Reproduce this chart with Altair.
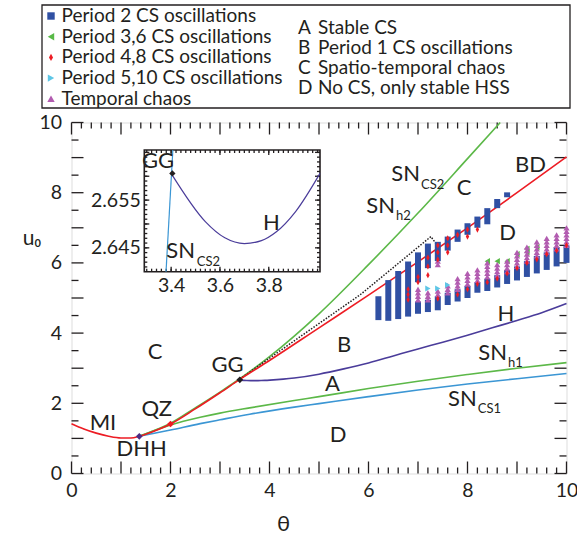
import altair as alt
import pandas as pd
import numpy as np

FONT = "Lato"
INK = "#231f20"
RED = "#ed1c24"
GREEN = "#5cb848"
LBLUE = "#3b96d4"
PURPLE = "#4a3c9a"
MBLUE = "#3050a3"
MGREEN = "#58b947"
MCYAN = "#5ec6e6"
MMAG = "#b25cb0"
W, H = 495, 351

# ---------------- curves (main plot) ----------------
mi_theta = [0, 0.25, 0.5, 0.75, 1.0, 1.2, 1.37, 1.6, 2.0, 2.5, 3.0, 3.4, 4.0, 5.0, 6.0, 7.0, 8.0, 9.0, 10.0]
mi_u = [1.42, 1.27, 1.15, 1.06, 1.01, 1.01, 1.06, 1.17, 1.41, 1.84, 2.30, 2.68, 3.22, 4.15, 5.08, 6.03, 7.00, 8.00, 9.02]
sncs2_theta = [1.37, 2.0, 2.5, 3.0, 3.4, 4.0, 5.0, 6.0, 7.0, 8.0, 8.66]
sncs2_u = [1.06, 1.43, 1.87, 2.32, 2.70, 3.33, 4.55, 5.95, 7.42, 8.97, 10.0]
snh1_theta = [1.37, 2.0, 2.6, 3.0, 3.6, 4.5, 5.0, 6.0, 7.0, 8.0, 9.0, 10.0]
snh1_u = [1.06, 1.38, 1.60, 1.72, 1.87, 2.08, 2.19, 2.42, 2.63, 2.82, 3.00, 3.16]
sncs1_theta = [1.37, 2.0, 2.6, 3.0, 3.6, 4.5, 5.0, 6.0, 7.0, 8.0, 9.0, 10.0]
sncs1_u = [1.06, 1.24, 1.42, 1.53, 1.69, 1.89, 1.99, 2.19, 2.38, 2.55, 2.70, 2.85]
h_theta = [3.4, 3.54, 3.62, 3.7, 3.77, 3.83, 3.91, 4.01, 4.5, 5.0, 5.5, 6.0, 6.5, 7.0, 7.5, 8.0, 8.5, 9.0, 9.5, 10.0]
h_u = [2.6606, 2.6505, 2.6471, 2.6459, 2.6465, 2.6483, 2.6526, 2.6606, 2.72, 2.83, 2.98, 3.15, 3.35,
       3.55, 3.74, 3.94, 4.15, 4.36, 4.58, 4.84]
snh2_theta = [3.4, 4.5, 5.83, 7.26, 7.38]
snh2_u = [2.69, 3.78, 5.09, 6.75, 6.52]

# special points
sp_name = ["DHH", "QZ", "GG"]
sp_theta = [1.37, 2.0, 3.4]
sp_u = [1.06, 1.41, 2.67]
sp_color = ["#4b2c83", RED, INK]

# ---------------- oscillation markers ----------------
# period 2: vertical ranges of stacked squares
p2_theta = [6.2, 6.4, 6.6, 6.8, 7.0, 7.0, 7.2, 7.2, 7.4, 7.4, 7.6, 7.6, 7.8, 7.8, 8.0, 8.0, 8.2, 8.2,
            8.4, 8.4, 8.6, 8.6, 8.8, 8.8, 9.0, 9.2, 9.4, 9.6, 9.8, 10.0]
p2_lo = [4.37, 4.35, 4.40, 4.47, 5.45, 4.55, 5.85, 4.60, 6.05, 4.65, 6.35, 4.80, 6.60, 4.90, 6.80, 5.00,
         7.00, 5.15, 7.10, 5.20, 7.56, 5.30, 7.87, 5.40, 5.50, 5.60, 5.70, 5.80, 5.90, 6.00]
p2_hi = [5.05, 5.51, 5.77, 6.04, 6.30, 4.90, 6.55, 4.95, 6.60, 5.05, 6.75, 5.15, 6.95, 5.25, 7.13, 5.35,
         7.32, 5.45, 7.56, 5.55, 7.82, 5.65, 8.01, 5.80, 5.90, 6.05, 6.20, 6.30, 6.45, 6.50]

p48_theta = [6.8, 6.8, 6.8, 7.0, 7.0, 7.2, 7.2, 7.2, 7.4, 7.4, 7.4, 7.4, 7.6, 7.6, 7.6, 7.8, 7.8,
             8.0, 8.0, 8.0, 8.2, 8.2, 8.4, 8.6, 8.8, 9.0, 9.2, 9.4, 9.6, 9.8, 10.0]
p48_u = [4.95, 5.10, 5.25, 5.45, 5.60, 5.65, 5.90, 6.15, 6.10, 6.30, 6.50, 4.98, 6.30, 6.50, 6.70, 6.80, 5.10,
         6.75, 6.95, 5.25, 6.95, 5.40, 5.45, 5.55, 5.70, 5.85, 6.00, 6.10, 6.25, 6.35, 6.50]

chaos_theta = [7.0, 7.0, 7.0, 7.0, 7.2, 7.2, 7.2, 7.4, 7.4, 7.4, 7.4, 7.6, 7.6, 7.6,
               7.8, 7.8, 7.8, 7.8, 8.0, 8.0, 8.0, 8.0, 8.2, 8.2, 8.2, 8.2,
               8.4, 8.4, 8.4, 8.4, 8.4, 8.6, 8.6, 8.6, 8.6, 8.8, 8.8, 8.8, 8.8,
               9.0, 9.0, 9.0, 9.0, 9.0, 9.2, 9.2, 9.2, 9.2, 9.2, 9.4, 9.4, 9.4, 9.4, 9.4,
               9.6, 9.6, 9.6, 9.6, 9.6, 9.8, 9.8, 9.8, 9.8, 9.8, 10.0, 10.0, 10.0, 10.0, 10.0, 10.0]
chaos_u = [4.95, 5.05, 5.15, 5.25, 4.95, 5.05, 5.15, 5.10, 5.20, 5.95, 6.05, 5.15, 5.25, 5.35,
           5.25, 5.35, 5.45, 5.55, 5.40, 5.50, 5.60, 5.70, 5.50, 5.60, 5.70, 5.80,
           5.60, 5.70, 5.80, 5.90, 6.00, 5.65, 5.75, 5.85, 5.95, 5.75, 5.85, 5.95, 6.05,
           5.90, 6.00, 6.10, 6.20, 6.30, 6.05, 6.15, 6.25, 6.35, 6.45, 6.20, 6.30, 6.40, 6.50, 6.60,
           6.30, 6.40, 6.50, 6.60, 6.70, 6.40, 6.50, 6.60, 6.70, 6.80, 6.50, 6.60, 6.70, 6.80, 6.90, 7.00]

p36_theta = [8.4, 8.6, 8.8, 9.0, 9.2, 9.2, 9.4]
p36_u = [6.05, 6.05, 6.05, 6.25, 6.30, 6.40, 6.45]

p510_theta = [7.2, 7.4, 7.6]
p510_u = [5.27, 5.27, 5.37]

series_names = ["Period 2 CS oscillations", "Period 3,6 CS oscillations", "Period 4,8 CS oscillations",
                "Period 5,10 CS oscillations", "Temporal chaos"]
series_colors = [MBLUE, MGREEN, RED, MCYAN, MMAG]
series_shapes = ["square", "triangle-left", "M0,-1L0.55,0L0,1L-0.55,0Z", "triangle-right", "triangle-up"]

region_letters = ["A", "B", "C", "D"]
region_texts = ["Stable CS", "Period 1 CS oscillations", "Spatio-temporal chaos", "No CS, only stable HSS"]

# ---------------- inset ----------------
INSET_X = [3.29, 4.01]
INSET_Y = [2.640, 2.6655]
inset_cs2_theta = [3.379, 3.407]
inset_cs2_u = [2.640, 2.6655]
inset_gg = (3.405, 2.6606)

# ---------------- tick values ----------------
x_major = list(range(0, 11))
x_minor = [round(v, 1) for v in np.arange(0, 10.01, 0.2) if abs(v - round(v)) > 1e-6]
y_major = list(range(0, 11))
y_minor = [v + 0.5 for v in range(0, 10)]
ix_major = [3.4, 3.6, 3.8]
ix_minor = [round(v, 2) for v in np.arange(3.30, 4.005, 0.02)]
iy_major = [2.645, 2.65, 2.655, 2.66, 2.665]
iy_minor = [round(v, 3) for v in np.arange(2.641, 2.6655, 0.001)]

# ---------------- scales / axes ----------------
TICKFS = 19.5
LEGFS = 19
SX = alt.Scale(domain=[0, 10], nice=False, zero=False)
SY = alt.Scale(domain=[0, 10], nice=False, zero=False)
AX = alt.Axis(values=[0, 2, 4, 6, 8, 10], ticks=False, domain=False, grid=False, title="θ",
              labelFontSize=TICKFS, labelPadding=8, labelColor=INK, labelFont=FONT,
              titleFontSize=22, titleFontWeight="normal", titleColor=INK, titleFont=FONT,
              titleX=211.5, titleY=50, titleAnchor="middle", titleBaseline="middle", labelFlush=False)
AY = alt.Axis(values=[0, 2, 4, 6, 8, 10], ticks=False, domain=False, grid=False, title="u₀",
              labelFontSize=TICKFS, labelPadding=10, labelColor=INK, labelFont=FONT,
              titleFontSize=21, titleFontWeight="normal", titleColor=INK, titleFont=FONT,
              titleAngle=0, titleX=-40, titleY=116, titleAlign="center", titleBaseline="middle",
              labelFlush=False)

IL, IR, IT, IB = 72.8, 248.5, 27.5, 149.2
SXI = alt.Scale(domain=INSET_X, range=[IL, IR], nice=False, zero=False)
SYI = alt.Scale(domain=INSET_Y, range=[IB, IT], nice=False, zero=False)
AXI = alt.Axis(orient="bottom", offset=IB - H, values=ix_major, format=".1f", ticks=False, domain=False,
               grid=False, title=None, labelFontSize=TICKFS, labelPadding=5, labelColor=INK, labelFont=FONT,
               labelFlush=False)
AYI = alt.Axis(orient="left", offset=-IL, values=[2.645, 2.655], format=".3f", ticks=False, domain=False,
               grid=False, title=None, labelFontSize=TICKFS, labelPadding=4, labelColor=INK, labelFont=FONT,
               labelFlush=False)


def X(f="x"):
    return alt.X(f"{f}:Q", scale=SX, axis=AX)


def Y(f="y"):
    return alt.Y(f"{f}:Q", scale=SY, axis=AY)


def XI(f="x"):
    return alt.X(f"{f}:Q", scale=SXI, axis=AXI)


def YI(f="y"):
    return alt.Y(f"{f}:Q", scale=SYI, axis=AYI)


def line(theta, u, color, width=1.6, dash=None, inset=False, smooth=True):
    df = pd.DataFrame({"x": theta, "y": u})
    kw = dict(color=color, strokeWidth=width)
    if smooth:
        kw["interpolate"] = "monotone"
    if dash:
        kw["strokeDash"] = dash
    return alt.Chart(df).mark_line(**kw).encode(x=XI() if inset else X(), y=YI() if inset else Y())


main_layers = []

# tick marks (inward) on four sides
def ticks(values, axis, length, inset=False):
    df = pd.DataFrame({"v": values})
    out = []
    if axis == "x":
        b, t = (IB, IT) if inset else (H, 0)
        xenc = XI("v") if inset else X("v")
        out.append(alt.Chart(df).mark_rule(color=INK, strokeWidth=1.3).encode(
            x=xenc, y=alt.value(b), y2=alt.value(b - length)))
        out.append(alt.Chart(df).mark_rule(color=INK, strokeWidth=1.3).encode(
            x=xenc, y=alt.value(t), y2=alt.value(t + length)))
    else:
        l, r = (IL, IR) if inset else (0, W)
        yenc = YI("v") if inset else Y("v")
        out.append(alt.Chart(df).mark_rule(color=INK, strokeWidth=1.3).encode(
            y=yenc, x=alt.value(l), x2=alt.value(l + length)))
        out.append(alt.Chart(df).mark_rule(color=INK, strokeWidth=1.3).encode(
            y=yenc, x=alt.value(r), x2=alt.value(r - length)))
    return out


main_layers += ticks(x_major, "x", 12) + ticks(x_minor, "x", 6)
main_layers += ticks(y_major, "y", 12) + ticks(y_minor, "y", 7)

# curves
main_layers.append(line(sncs1_theta, sncs1_u, LBLUE))
main_layers.append(line(snh1_theta, snh1_u, GREEN))
main_layers.append(line(h_theta, h_u, PURPLE))
main_layers.append(line(sncs2_theta, sncs2_u, GREEN))
main_layers.append(line(snh2_theta, snh2_u, INK, width=1.5, dash=[1.5, 1.5], smooth=False))
main_layers.append(line(mi_theta, mi_u, RED))

# period-2 stacks
p2 = pd.DataFrame({"x": p2_theta, "lo": p2_lo, "hi": p2_hi})
main_layers.append(alt.Chart(p2).mark_rule(color=MBLUE, strokeWidth=6).encode(
    x=X(), y=Y("lo"), y2="hi:Q"))

# other oscillation markers
pts = pd.concat([
    pd.DataFrame({"x": p36_theta, "y": p36_u, "s": series_names[1]}),
    pd.DataFrame({"x": chaos_theta, "y": chaos_u, "s": series_names[4]}),
    pd.DataFrame({"x": p48_theta, "y": p48_u, "s": series_names[2]}),
    pd.DataFrame({"x": p510_theta, "y": p510_u, "s": series_names[3]}),
], ignore_index=True)
legend = alt.Legend(orient="none", legendX=-30, legendY=-116, title=None, labelFont=FONT,
                    labelFontSize=LEGFS, labelColor=INK, symbolSize=55, symbolStrokeWidth=0,
                    rowPadding=0.7, labelOffset=1, padding=0, labelLimit=0)
main_layers.append(alt.Chart(pts).mark_point(filled=True, opacity=1, size=38).encode(
    x=X(), y=Y(),
    color=alt.Color("s:N", scale=alt.Scale(domain=series_names, range=series_colors), legend=legend),
    shape=alt.Shape("s:N", scale=alt.Scale(domain=series_names, range=series_shapes), legend=legend),
))

# special points
sp = pd.DataFrame({"x": sp_theta, "y": sp_u, "c": sp_color})
main_layers.append(alt.Chart(sp).mark_point(filled=True, opacity=1, size=45, shape="diamond").encode(
    x=X(), y=Y(), color=alt.Color("c:N", scale=None)))

# text labels in the plot
LBLFS = 22
big = pd.DataFrame({
    "t": ["C", "BD", "D", "H", "B", "A", "GG", "C", "D", "MI", "QZ", "DHH"],
    "x": [7.929, 9.273, 8.808, 8.778, 5.505, 5.273, 3.152, 1.687, 5.384, 0.636, 1.721, 1.418],
    "y": [8.120, 8.775, 6.852, 4.544, 3.661, 2.550, 3.077, 3.462, 1.097, 1.439, 1.838, 0.698],
})
main_layers.append(alt.Chart(big).mark_text(font=FONT, fontSize=LBLFS, color=INK, align="center",
                                            baseline="middle").encode(x=X(), y=Y(), text="t:N"))
sn = pd.DataFrame({"x": [7.040, 6.535, 8.798, 8.186], "y": [8.533, 7.607, 3.447, 2.123], "t": ["SN"] * 4})
main_layers.append(alt.Chart(sn).mark_text(font=FONT, fontSize=LBLFS, color=INK, align="right",
                                           baseline="middle").encode(x=X(), y=Y(), text="t:N"))
sub = pd.DataFrame({"x": [7.06, 6.556, 8.818, 8.206], "y": [8.219, 7.336, 3.162, 1.838],
                    "t": ["CS2", "h2", "h1", "CS1"]})
main_layers.append(alt.Chart(sub).mark_text(font=FONT, fontSize=13, color=INK, align="left",
                                            baseline="middle").encode(x=X(), y=Y(), text="t:N"))

# legend frame and region key
one = pd.DataFrame({"a": [0]})
main_layers.append(alt.Chart(one).mark_rect(fill="white", fillOpacity=0, stroke=INK, strokeWidth=1.3).encode(
    x=alt.value(42 - 71.5), x2=alt.value(570 - 71.5), y=alt.value(5 - 122.5), y2=alt.value(108 - 122.5)))
for i, (let, txt) in enumerate(zip(region_letters, region_texts)):
    yy = 28 + 20 * i - 122.5
    main_layers.append(alt.Chart(one).mark_text(font=FONT, fontSize=LEGFS, color=INK, align="left",
                                                baseline="middle", text=let).encode(
        x=alt.value(298 - 71.5), y=alt.value(yy)))
    main_layers.append(alt.Chart(one).mark_text(font=FONT, fontSize=LEGFS, color=INK, align="left",
                                                baseline="middle", text=txt).encode(
        x=alt.value(318 - 71.5), y=alt.value(yy)))

main = alt.layer(*main_layers)

# ---------------- inset layers ----------------
inset_layers = []
frame = pd.DataFrame({"x": [INSET_X[0]], "x2": [INSET_X[1]], "y": [INSET_Y[0]], "y2": [INSET_Y[1]]})
inset_layers.append(alt.Chart(frame).mark_rect(fill="white", stroke=INK, strokeWidth=1.6).encode(
    x=XI(), x2="x2:Q", y=YI(), y2="y2:Q"))
inset_layers += ticks(ix_major, "x", 5, inset=True) + ticks(ix_minor, "x", 3, inset=True)
inset_layers += ticks(iy_major, "y", 5, inset=True) + ticks(iy_minor, "y", 3, inset=True)
ih = [(t, u) for t, u in zip(h_theta, h_u) if t <= INSET_X[1]]
inset_layers.append(line([a for a, b in ih], [b for a, b in ih], PURPLE, width=1.2, inset=True))
inset_layers.append(line(inset_cs2_theta, inset_cs2_u, LBLUE, width=1.2, inset=True, smooth=False))
gg = pd.DataFrame({"x": [inset_gg[0]], "y": [inset_gg[1]]})
inset_layers.append(alt.Chart(gg).mark_point(filled=True, opacity=1, size=40, shape="diamond", color=INK).encode(
    x=XI(), y=YI()))
itxt = pd.DataFrame({"x": [3.346, 3.811], "y": [2.6632, 2.6502], "t": ["GG", "H"]})
inset_layers.append(alt.Chart(itxt).mark_text(font=FONT, fontSize=LBLFS, color=INK, align="center",
                                              baseline="middle").encode(x=XI(), y=YI(), text="t:N"))
isn = pd.DataFrame({"x": [3.498], "y": [2.6444], "t": ["SN"]})
inset_layers.append(alt.Chart(isn).mark_text(font=FONT, fontSize=LBLFS, color=INK, align="right",
                                             baseline="middle").encode(x=XI(), y=YI(), text="t:N"))
isub = pd.DataFrame({"x": [3.505], "y": [2.6421], "t": ["CS2"]})
inset_layers.append(alt.Chart(isub).mark_text(font=FONT, fontSize=13, color=INK, align="left",
                                              baseline="middle").encode(x=XI(), y=YI(), text="t:N"))
inset = alt.layer(*inset_layers)

chart = alt.layer(main, inset).resolve_scale(x="independent", y="independent").properties(
    width=W, height=H,
    padding={"left": 71.5, "top": 122.5, "right": 10.5, "bottom": 63.5},
    autosize=alt.AutoSizeParams(type="none"),
).configure_view(stroke=INK, strokeWidth=2).configure(background="white")

chart.save("out.html", embed_options={"renderer": "svg", "actions": False})
